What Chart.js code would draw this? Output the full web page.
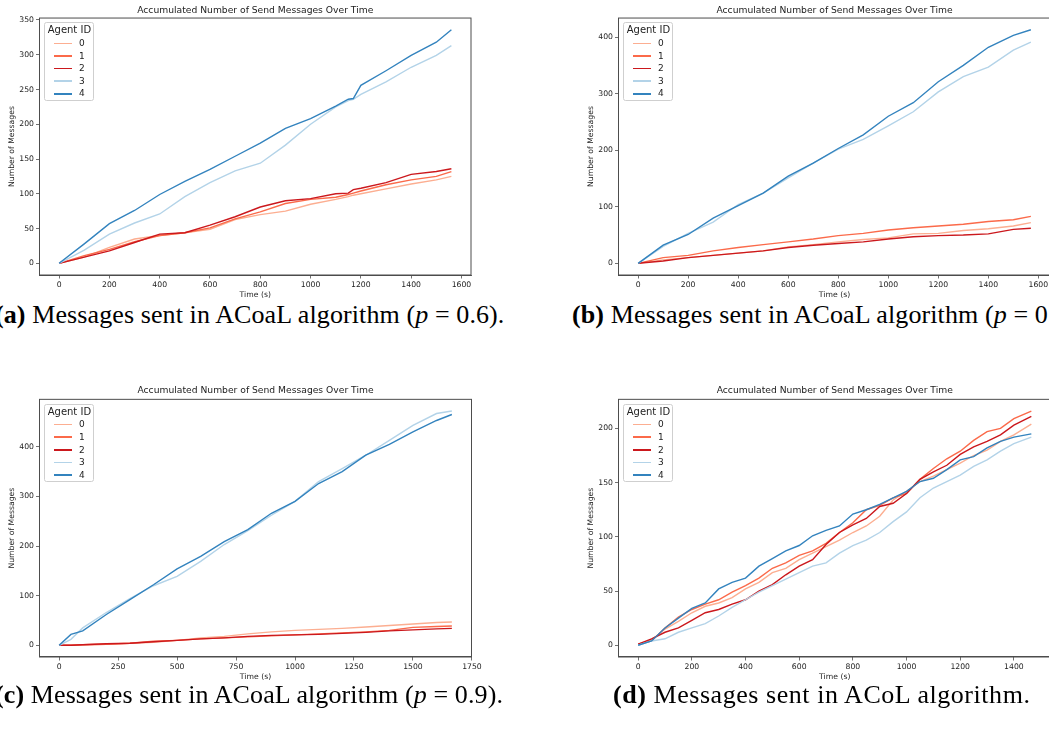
<!DOCTYPE html>
<html>
<head>
<meta charset="utf-8">
<script src="https://cdn.jsdelivr.net/npm/chart.js@4.4.1/dist/chart.umd.min.js"></script>
<style>
  html, body { margin: 0; padding: 0; background: #fff; }
  body { width: 1049px; height: 740px; position: relative; overflow: hidden; }
  .panel { position: absolute; }
  .panel canvas { display: block; }
  .legend {
    position: absolute; box-sizing: border-box; width: 50.6px; height: 78.7px;
    border: 0.8px solid #cfcfcf; border-radius: 2.5px; background: rgba(255,255,255,0.8);
    font-family: "DejaVu Sans", sans-serif; color: #222; padding-top: 1px;
  }
  .legend-title { font-size: 10px; line-height: 12.6px; padding-left: 3px; white-space: nowrap; }
  .legend-row { height: 12.65px; line-height: 12.65px; font-size: 9px; position: relative; }
  .legend-row .swatch { position: absolute; left: 9.6px; top: 5.6px; width: 18px; height: 1.5px; }
  .legend-row .lbl { position: absolute; left: 34.2px; top: 0; }
  .caption { position: absolute; font-family: "Liberation Serif", serif; font-size: 26px; line-height: 1; white-space: nowrap; color: #000; letter-spacing: 0.1px; }
  .caption b { font-weight: bold; }
  .caption i { font-style: italic; }
</style>
</head>
<body>

<div class="panel" id="panel-a" style="left:0px;top:0px;"><canvas id="chart-a" width="490" height="300"></canvas></div>
<div class="panel" id="panel-b" style="left:570px;top:0px;"><canvas id="chart-b" width="500" height="300"></canvas></div>
<div class="panel" id="panel-c" style="left:0px;top:370px;"><canvas id="chart-c" width="490" height="312"></canvas></div>
<div class="panel" id="panel-d" style="left:570px;top:370px;"><canvas id="chart-d" width="500" height="312"></canvas></div>

<div class="caption" style="left:-5px;top:302px;"><b>(a)</b> Messages sent in ACoaL algorithm (<i>p</i> = 0.6).</div>
<div class="caption" style="left:572px;top:302px;"><b>(b)</b> Messages sent in ACoaL algorithm (<i>p</i> = 0.8).</div>
<div class="caption" style="left:-5px;top:682px;"><b>(c)</b> Messages sent in ACoaL algorithm (<i>p</i> = 0.9).</div>
<div class="caption" style="left:613px;top:682px;letter-spacing:0.55px;"><b>(d)</b> Messages sent in ACoL algorithm.</div>

<script>
// agents 0..4, Reds for 0-2 and Blues for 3-4
var agentIds = ['0', '1', '2', '3', '4'];
var agentColors = ['#fcae91', '#fb6a4a', '#cb181d', '#b3d3e8', '#3383be'];

// (a) ACoaL, p = 0.6
var timeA = [0, 100, 200, 300, 400, 500, 600, 700, 800, 900, 1000, 1100, 1150, 1170, 1200, 1300, 1400, 1500, 1560];
var sentA0 = [0, 9, 23, 35, 40, 44, 49, 63, 70, 75, 85, 92, 96, 98, 100, 107, 114, 120, 125];
var sentA1 = [0, 11, 20, 31, 40, 44, 51, 64, 74, 86, 92, 95, 99, 101, 104, 113, 120, 125, 132];
var sentA2 = [0, 9, 18, 30, 42, 44, 55, 67, 81, 90, 93, 100, 101, 106, 108, 116, 128, 132, 136];
var sentA3 = [0, 19, 42, 58, 71, 96, 116, 133, 144, 170, 200, 225, 234, 236, 243, 261, 282, 299, 313];
var sentA4 = [0, 28, 57, 76, 99, 118, 135, 154, 173, 194, 208, 226, 236, 237, 256, 277, 299, 318, 336];
var xTicksA = [0, 200, 400, 600, 800, 1000, 1200, 1400, 1600];
var yTicksA = [0, 50, 100, 150, 200, 250, 300, 350];

// (b) ACoaL, p = 0.8
var timeB = [0, 100, 200, 300, 400, 500, 600, 700, 800, 900, 1000, 1100, 1200, 1300, 1400, 1500, 1570];
var sentB0 = [0, 6, 10, 14, 18, 22, 29, 33, 38, 42, 45, 52, 53, 58, 61, 66, 72];
var sentB1 = [0, 10, 14, 22, 28, 33, 38, 43, 49, 53, 59, 63, 66, 69, 74, 77, 83];
var sentB2 = [0, 4, 10, 14, 18, 22, 28, 32, 35, 38, 43, 47, 49, 50, 52, 60, 62];
var sentB3 = [0, 30, 53, 73, 104, 124, 151, 177, 202, 219, 243, 268, 303, 330, 347, 377, 391];
var sentB4 = [0, 32, 51, 80, 102, 124, 154, 177, 203, 227, 260, 284, 321, 350, 382, 403, 413];
var xTicksB = [0, 200, 400, 600, 800, 1000, 1200, 1400, 1600];
var yTicksB = [0, 100, 200, 300, 400];

// (c) ACoaL, p = 0.9
var timeC = [0, 50, 100, 200, 300, 400, 500, 600, 700, 800, 900, 1000, 1100, 1200, 1300, 1400, 1500, 1600, 1665];
var sentC0 = [0, 0, 1, 2, 4, 6, 10, 15, 18, 23, 27, 30, 32, 34, 37, 40, 43, 46, 47];
var sentC1 = [0, 0, 1, 2, 4, 8, 10, 13, 15, 17, 19, 21, 23, 25, 27, 30, 36, 38, 39];
var sentC2 = [0, 0, 1, 3, 4, 7, 10, 13, 15, 18, 20, 21, 22, 24, 26, 29, 31, 33, 34];
var sentC3 = [0, 12, 35, 66, 94, 120, 139, 169, 203, 231, 262, 290, 330, 356, 383, 413, 443, 467, 472];
var sentC4 = [0, 22, 29, 62, 92, 122, 154, 179, 209, 233, 266, 290, 326, 350, 383, 405, 430, 453, 465];
var xTicksC = [0, 250, 500, 750, 1000, 1250, 1500, 1750];
var yTicksC = [0, 100, 200, 300, 400];

// (d) ACoL
var timeD = [0, 50, 100, 150, 200, 250, 300, 350, 400, 450, 500, 550, 600, 650, 700,
             750, 800, 850, 900, 950, 1000, 1050, 1100, 1150, 1200, 1250, 1300, 1350, 1400, 1465];
var sentD0 = [1, 5, 15, 22, 30, 36, 39, 44, 52, 58, 67, 71, 79, 85, 91, 97, 104, 110, 119, 134, 142, 151, 156, 162, 168, 175, 180, 188, 194, 204];
var sentD1 = [1, 4, 16, 26, 33, 38, 42, 49, 55, 62, 71, 76, 83, 87, 94, 104, 113, 125, 129, 136, 140, 153, 163, 172, 179, 189, 197, 200, 209, 216];
var sentD2 = [1, 6, 12, 16, 23, 30, 33, 38, 42, 50, 56, 65, 73, 79, 93, 104, 111, 117, 128, 131, 140, 153, 160, 166, 176, 183, 188, 194, 203, 211];
var sentD3 = [0, 4, 6, 12, 16, 20, 27, 35, 42, 49, 55, 61, 67, 73, 76, 85, 92, 97, 104, 114, 123, 136, 145, 151, 157, 165, 171, 179, 186, 192];
var sentD4 = [0, 4, 16, 25, 34, 39, 52, 58, 62, 73, 80, 87, 92, 101, 106, 110, 121, 125, 130, 136, 142, 151, 154, 162, 171, 174, 182, 188, 192, 195];
var xTicksD = [0, 200, 400, 600, 800, 1000, 1200, 1400];
var yTicksD = [0, 50, 100, 150, 200];

var textColor = '#222';
var spineColor = '#4d4d4d';
var fontFamily = 'DejaVu Sans';

// box around the plot area (all four spines)
var axesFrame = {
    id: 'axesFrame',
    afterDatasetsDraw: function (chart) {
        var a = chart.chartArea, ctx = chart.ctx;
        ctx.save();
        ctx.strokeStyle = spineColor;
        ctx.lineWidth = 1;
        ctx.strokeRect(a.left, a.top, a.right - a.left, a.bottom - a.top);
        ctx.restore();
    }
};

// legend box inside the upper-left corner of the plot area
var htmlLegend = {
    id: 'htmlLegend',
    afterUpdate: function (chart) {
        var holder = chart.canvas.parentNode;
        var el = holder.querySelector('.legend');
        if (!el) {
            el = document.createElement('div');
            el.className = 'legend';
            holder.appendChild(el);
        }
        el.style.left = (chart.chartArea.left + 4.2) + 'px';
        el.style.top = (chart.chartArea.top + 4.3) + 'px';
        el.innerHTML = '';
        var title = document.createElement('div');
        title.className = 'legend-title';
        title.textContent = 'Agent ID';
        el.appendChild(title);
        chart.data.datasets.forEach(function (ds) {
            var row = document.createElement('div');
            row.className = 'legend-row';
            var sw = document.createElement('span');
            sw.className = 'swatch';
            sw.style.background = ds.borderColor;
            var lbl = document.createElement('span');
            lbl.className = 'lbl';
            lbl.textContent = ds.label;
            row.appendChild(sw);
            row.appendChild(lbl);
            el.appendChild(row);
        });
    }
};

function makeChart(canvasId, opts) {
    var datasets = opts.series.map(function (vals, i) {
        return {
            label: agentIds[i],
            data: opts.time.map(function (t, k) { return { x: t, y: vals[k] }; }),
            borderColor: agentColors[i],
            borderWidth: 1.4,
            pointRadius: 0,
            tension: 0,
            fill: false,
            order: opts.series.length - i   // later agents drawn on top
        };
    });

    var tickFont = { family: fontFamily, size: 7.7 };

    return new Chart(document.getElementById(canvasId), {
        type: 'line',
        data: { datasets: datasets },
        options: {
            responsive: false,
            animation: false,
            layout: { padding: { left: 0, right: opts.padRight, top: 0, bottom: 0 } },
            plugins: {
                legend: { display: false },
                tooltip: { enabled: false },
                title: {
                    display: true,
                    text: 'Accumulated Number of Send Messages Over Time',
                    fullSize: false,
                    color: textColor,
                    font: { family: fontFamily, size: 9.2, weight: 'normal' },
                    padding: { top: opts.titleTop, bottom: opts.titleBottom }
                }
            },
            scales: {
                x: {
                    type: 'linear',
                    min: opts.xRange[0],
                    max: opts.xRange[1],
                    afterBuildTicks: function (s) { s.ticks = opts.xTicks.map(function (v) { return { value: v }; }); },
                    afterFit: function (s) { s.height = 25; },
                    ticks: {
                        color: textColor, font: tickFont, padding: 1.5, maxRotation: 0, autoSkip: false,
                        callback: function (v) { return String(v); }
                    },
                    grid: { drawOnChartArea: false, drawTicks: true, tickLength: 3.5, color: spineColor, lineWidth: 0.8 },
                    border: { display: true, color: spineColor, width: 1 },
                    title: {
                        display: true, text: 'Time (s)', color: textColor, font: tickFont,
                        padding: { top: 0, bottom: 0.7 }
                    }
                },
                y: {
                    type: 'linear',
                    min: opts.yRange[0],
                    max: opts.yRange[1],
                    afterBuildTicks: function (s) { s.ticks = opts.yTicks.map(function (v) { return { value: v }; }); },
                    afterFit: function (s) { s.width = opts.yWidth; },
                    ticks: {
                        color: textColor, font: tickFont, padding: 2, autoSkip: false,
                        callback: function (v) { return String(v); }
                    },
                    grid: { drawOnChartArea: false, drawTicks: true, tickLength: 3.5, color: spineColor, lineWidth: 0.8 },
                    border: { display: true, color: spineColor, width: 1 },
                    title: {
                        display: true, text: 'Number of Messages', color: textColor, font: tickFont,
                        padding: { top: opts.yTitlePad, bottom: 0 }
                    }
                }
            }
        },
        plugins: [axesFrame, htmlLegend]
    });
}

makeChart('chart-a', {
    time: timeA, series: [sentA0, sentA1, sentA2, sentA3, sentA4],
    xRange: [-78, 1638], yRange: [-16.8, 352.8], xTicks: xTicksA, yTicks: yTicksA,
    yWidth: 39.5, padRight: 19, titleTop: 4.8, titleBottom: 2.2, yTitlePad: 7.6
});
makeChart('chart-b', {
    time: timeB, series: [sentB0, sentB1, sentB2, sentB3, sentB4],
    xRange: [-78.5, 1648.5], yRange: [-20.65, 433.65], xTicks: xTicksB, yTicks: yTicksB,
    yWidth: 48.5, padRight: 19.5, titleTop: 4.8, titleBottom: 2.2, yTitlePad: 16.4
});
makeChart('chart-c', {
    time: timeC, series: [sentC0, sentC1, sentC2, sentC3, sentC4],
    xRange: [-83.25, 1748.25], yRange: [-23.6, 495.6], xTicks: xTicksC, yTicks: yTicksC,
    yWidth: 39.5, padRight: 18.5, titleTop: 15.5, titleBottom: 2.8, yTitlePad: 7.6
});
makeChart('chart-d', {
    time: timeD, series: [sentD0, sentD1, sentD2, sentD3, sentD4],
    xRange: [-73.25, 1538.25], yRange: [-10.8, 226.8], xTicks: xTicksD, yTicks: yTicksD,
    yWidth: 48.5, padRight: 19, titleTop: 15.5, titleBottom: 2.8, yTitlePad: 16.1
});
</script>
</body>
</html>
